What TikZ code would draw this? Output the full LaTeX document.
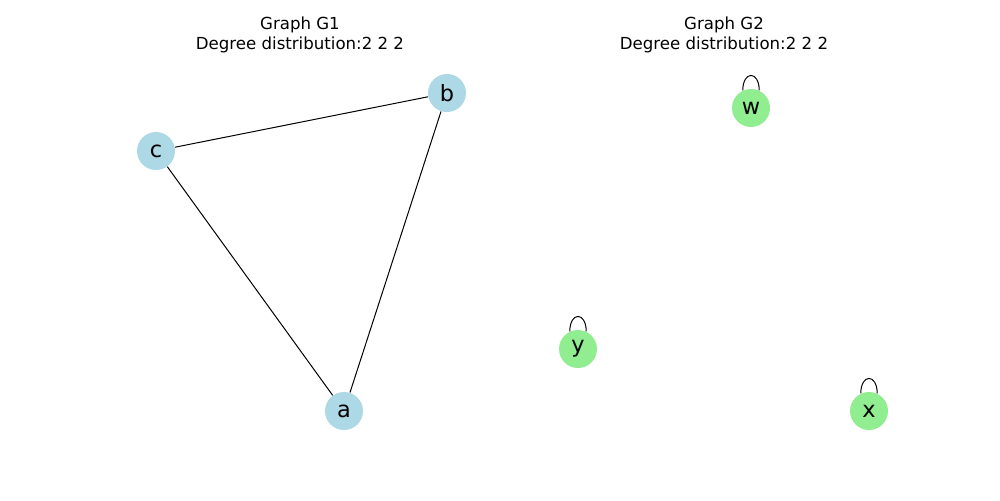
\documentclass[tikz,border=0pt]{standalone}
\usepackage{fontspec}
\setmainfont{DejaVu Sans}
\tikzset{
  vtx/.style={circle, inner sep=0pt, minimum size=19pt, font=\fontsize{11.2pt}{13pt}\selectfont},
  vblue/.style={vtx, fill={rgb,255:red,173;green,216;blue,230}},
  vgreen/.style={vtx, fill={rgb,255:red,144;green,238;blue,144}},
  ttl/.style={align=center, font=\fontsize{8.3pt}{10pt}\selectfont},
  selfloop/.style={line width=0.5pt}
}
\begin{document}
\begin{tikzpicture}[x=0.5pt,y=-0.5pt]
\useasboundingbox (0,0) rectangle (1000,500);

% Graph G1
\node[ttl] (t1) at (300,35) {Graph G1\\Degree distribution:2 2 2};
\node[vblue] (a) at (344,411) {a};
\node[vblue] (b) at (447,93) {b};
\node[vblue] (c) at (156,151) {c};

\draw[line width=0.5pt] (c) -- (b);
\draw[line width=0.5pt] (b) -- (a);
\draw[line width=0.5pt] (c) -- (a);

% Graph G2
\node[ttl] (t2) at (724,35) {Graph G2\\Degree distribution:2 2 2};
\node[vgreen] (w) at (751,108) {w};
\node[vgreen] (y) at (578,349) {y};
\node[vgreen] (x) at (869,411) {x};

\foreach \v in {w,y,x}
  \draw[selfloop] (\v.115) .. controls +(0,-20) and +(0,-20) .. (\v.65);

\end{tikzpicture}
\end{document}
